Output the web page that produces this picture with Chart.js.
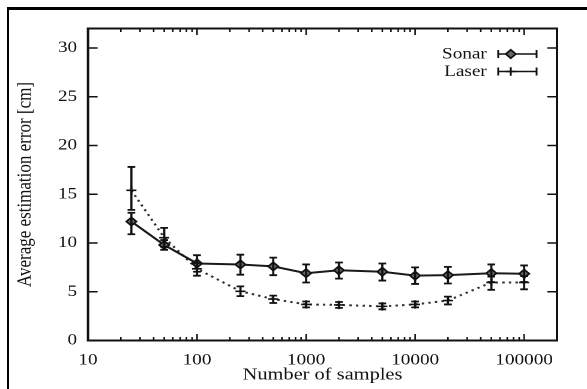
<!DOCTYPE html>
<html>
<head>
<meta charset="utf-8">
<script src="https://cdn.jsdelivr.net/npm/chart.js@4.4.1/dist/chart.umd.min.js"></script>
<style>
  html, body { margin:0; padding:0; background:#fff; overflow:hidden; width:587px; height:389px; }
  #frame { position:absolute; left:7px; top:7px; width:700px; height:500px; border-left:2px solid #000; border-top:3px solid #000; }
  #wrap { position:absolute; left:0; top:0; width:489px; height:389px; transform:scaleX(1.2004); transform-origin:0 0; }
</style>
</head>
<body>
<div id="frame"></div>
<div id="wrap"><canvas id="c"></canvas></div>
<script>
// ---- data ----
const samples   = [25, 50, 100, 250, 500, 1000, 2000, 5000, 10000, 20000, 50000, 100000];
const sonarMean = [12.2, 9.8, 7.9, 7.8, 7.6, 6.9, 7.2, 7.05, 6.65, 6.7, 6.9, 6.85];
const sonarLow  = [10.9, 9.3, 7.05, 6.75, 6.7, 5.95, 6.35, 6.15, 5.8, 5.85, 6.0, 6.0];
const sonarHigh = [13.1, 10.3, 8.75, 8.8, 8.5, 7.8, 8.0, 7.9, 7.5, 7.55, 7.8, 7.7];
const laserMean = [15.4, 10.55, 7.35, 5.05, 4.25, 3.7, 3.65, 3.5, 3.7, 4.1, 5.95, 5.95];
const laserLow  = [13.4, 9.6, 6.65, 4.55, 3.85, 3.4, 3.35, 3.2, 3.4, 3.7, 5.2, 5.25];
const laserHigh = [17.8, 11.55, 7.95, 5.55, 4.6, 4.0, 3.95, 3.8, 4.0, 4.5, 6.55, 6.6];
const seriesNames = ['Sonar', 'Laser'];
const xTickValues = [10, 100, 1000, 10000, 100000];
const yTickValues = [0, 5, 10, 15, 20, 25, 30];
const xTitle = 'Number of samples';
const yTitle = 'Average estimation error [cm]';

const FONT = 'Liberation Serif';
const INK = '#111';

const pts = (ys) => samples.map((x, i) => ({x: x, y: ys[i]}));
const errs = [[sonarLow, sonarHigh], [laserLow, laserHigh]];

function drawMarker(ctx, style, x, y) {
  ctx.save();
  ctx.strokeStyle = INK; ctx.lineWidth = 1.6;
  ctx.beginPath();
  const r = 4.2;
  if (style === 'diamond') {
    ctx.moveTo(x, y - r); ctx.lineTo(x + r, y); ctx.lineTo(x, y + r); ctx.lineTo(x - r, y); ctx.closePath();
    ctx.fillStyle = '#666'; ctx.fill();
  } else {
    ctx.moveTo(x - r, y); ctx.lineTo(x + r, y); ctx.moveTo(x, y - r); ctx.lineTo(x, y + r);
  }
  ctx.stroke();
  ctx.restore();
}

const frameTicksPlugin = {
  id: 'frameTicks',
  beforeDatasetsDraw(chart) {
    const {ctx, chartArea: a, scales: {x, y}} = chart;
    ctx.save();
    ctx.strokeStyle = INK;
    ctx.lineWidth = 1.6;
    yTickValues.forEach(v => {
      const py = y.getPixelForValue(v);
      ctx.beginPath();
      ctx.moveTo(a.left, py); ctx.lineTo(a.left + 8, py);
      ctx.moveTo(a.right, py); ctx.lineTo(a.right - 8, py);
      ctx.stroke();
    });
    ctx.lineWidth = 1.3;
    for (let d = 10; d <= 100000; d *= 10) {
      for (let m = 1; m <= 9; m++) {
        const v = d * m;
        if (v > x.max) break;
        const px = x.getPixelForValue(v);
        const len = m === 1 ? 6.5 : 3.5;
        ctx.beginPath();
        ctx.moveTo(px, a.bottom); ctx.lineTo(px, a.bottom - len);
        ctx.moveTo(px, a.top); ctx.lineTo(px, a.top + len);
        ctx.stroke();
      }
    }
    ctx.lineWidth = 2;
    ctx.strokeRect(a.left, a.top, a.right - a.left, a.bottom - a.top);
    ctx.restore();
  },
  afterDatasetsDraw(chart) {
    const {ctx, scales: {x, y}} = chart;
    ctx.save();
    ctx.strokeStyle = INK;
    ctx.lineWidth = 1.8;
    errs.forEach(([lo, hi]) => {
      samples.forEach((s, i) => {
        const px = x.getPixelForValue(s);
        const y1 = y.getPixelForValue(lo[i]);
        const y2 = y.getPixelForValue(hi[i]);
        const c = 3.2;
        ctx.beginPath();
        ctx.moveTo(px, y1); ctx.lineTo(px, y2);
        ctx.moveTo(px - c, y1); ctx.lineTo(px + c, y1);
        ctx.moveTo(px - c, y2); ctx.lineTo(px + c, y2);
        ctx.stroke();
      });
    });
    ctx.restore();
  },
  afterDraw(chart) {
    const {ctx} = chart;
    ctx.save();
    ctx.font = '16px "' + FONT + '"';
    ctx.fillStyle = INK;
    ctx.textAlign = 'right';
    ctx.textBaseline = 'middle';
    const rows = [54, 71.5];
    const styles = ['diamond', 'plus'];
    seriesNames.forEach((name, i) => {
      const ty = rows[i];
      ctx.fillText(name, 405.5, ty + 0.5);
      const x0 = 415, x1 = 447;
      ctx.strokeStyle = INK; ctx.lineWidth = 1.5;
      ctx.beginPath();
      ctx.moveTo(x0, ty); ctx.lineTo(x1, ty);
      ctx.moveTo(x0, ty - 4); ctx.lineTo(x0, ty + 4);
      ctx.moveTo(x1, ty - 4); ctx.lineTo(x1, ty + 4);
      ctx.stroke();
      drawMarker(ctx, styles[i], 425.5, ty);
    });
    ctx.restore();
  }
};

new Chart(document.getElementById('c'), {
  type: 'line',
  data: {
    datasets: [
      {
        label: seriesNames[0], data: pts(sonarMean),
        borderColor: '#1a1a1a', borderWidth: 2,
        pointStyle: 'rectRot', pointRadius: 4.2, pointBorderWidth: 1.6,
        pointBorderColor: INK, pointBackgroundColor: '#666', tension: 0
      },
      {
        label: seriesNames[1], data: pts(laserMean),
        borderColor: '#333', borderWidth: 2, borderDash: [2, 3.5],
        pointStyle: 'cross', pointRadius: 4.2, pointBorderWidth: 1.6,
        pointBorderColor: INK, tension: 0
      }
    ]
  },
  options: {
    responsive: true, maintainAspectRatio: false, animation: false,
    devicePixelRatio: 2,
    layout: { padding: { left: 0, top: 28.5, right: 25, bottom: 0 } },
    plugins: { legend: { display: false }, tooltip: { enabled: false } },
    scales: {
      x: {
        type: 'logarithmic', min: 10, max: 200000,
        afterBuildTicks: s => { s.ticks = xTickValues.map(v => ({value: v, major: true})); },
        afterFit: s => { s.height = 48.5; },
        grid: { display: false, drawTicks: false },
        border: { display: false },
        ticks: { autoSkip: false, maxRotation: 0, padding: 10, color: INK,
                 font: { family: FONT, size: 16 }, callback: v => String(v) },
        title: { display: true, text: xTitle, color: INK,
                 font: { family: FONT, size: 17 }, padding: { top: 0, bottom: 4 } }
      },
      y: {
        type: 'linear', min: 0, max: 32,
        afterBuildTicks: s => { s.ticks = yTickValues.map(v => ({value: v})); },
        afterFit: s => { s.width = 73.3; },
        grid: { display: false, drawTicks: false },
        border: { display: false },
        ticks: { padding: 9, color: INK, font: { family: FONT, size: 16 } },
        title: { display: true, text: yTitle, color: INK,
                 font: { family: FONT, size: 17 }, padding: { top: 11, bottom: 0 } }
      }
    }
  },
  plugins: [frameTicksPlugin]
});
</script>
</body>
</html>
